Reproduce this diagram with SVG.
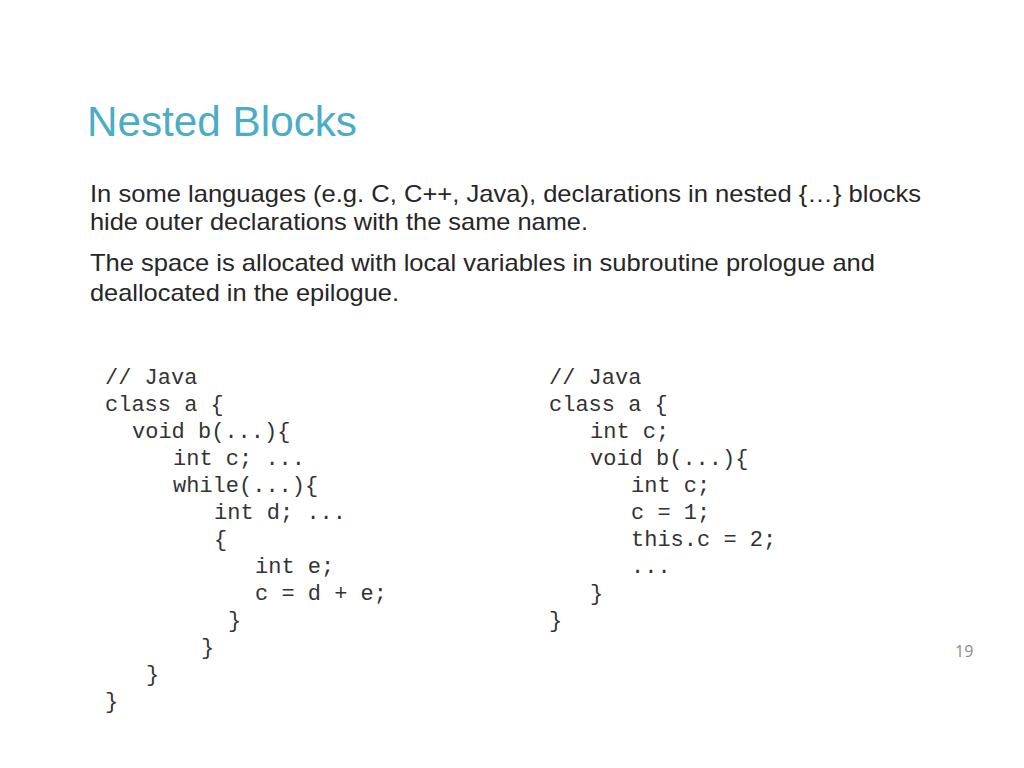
<svg xmlns="http://www.w3.org/2000/svg" width="1024" height="768" viewBox="0 0 1024 768">
<style>
.t{font-family:"Liberation Sans",Arial,sans-serif;fill:#4BACC6;font-size:42px}
.b{font-family:"Liberation Sans",Arial,sans-serif;fill:#262626;font-size:24px}
.c{font-family:"Liberation Mono","Courier New",monospace;fill:#333;font-size:22px}
.n{font-family:"Open Sans","Liberation Sans",sans-serif;fill:#8c8c8c;font-size:16px}
</style>
<rect width="1024" height="768" fill="#fff"/>
<text class="t" x="87" y="136" textLength="270" lengthAdjust="spacingAndGlyphs">Nested Blocks</text>
<text class="b" x="90" y="202" textLength="831" lengthAdjust="spacingAndGlyphs">In some languages (e.g. C, C++, Java), declarations in nested {…} blocks</text>
<text class="b" x="90" y="230" textLength="498" lengthAdjust="spacingAndGlyphs">hide outer declarations with the same name.</text>
<text class="b" x="90" y="271" textLength="785" lengthAdjust="spacingAndGlyphs">The space is allocated with local variables in subroutine prologue and</text>
<text class="b" x="90" y="301" textLength="309" lengthAdjust="spacingAndGlyphs">deallocated in the epilogue.</text>
<g class="c">
<text x="105" y="384">// Java</text>
<text x="105" y="411">class a {</text>
<text x="132" y="438">void b(...){</text>
<text x="173" y="465">int c; ...</text>
<text x="173" y="492">while(...){</text>
<text x="214" y="519">int d; ...</text>
<text x="214" y="546">{</text>
<text x="255" y="573">int e;</text>
<text x="255" y="600">c = d + e;</text>
<text x="228" y="627">}</text>
<text x="201" y="654">}</text>
<text x="146" y="681">}</text>
<text x="105" y="708">}</text>
<text x="549" y="384">// Java</text>
<text x="549" y="411">class a {</text>
<text x="590" y="438">int c;</text>
<text x="590" y="465">void b(...){</text>
<text x="631" y="492">int c;</text>
<text x="631" y="519">c = 1;</text>
<text x="631" y="546">this.c = 2;</text>
<text x="631" y="573">...</text>
<text x="590" y="600">}</text>
<text x="549" y="627">}</text>
</g>
<text class="n" x="955" y="657">19</text>
</svg>
